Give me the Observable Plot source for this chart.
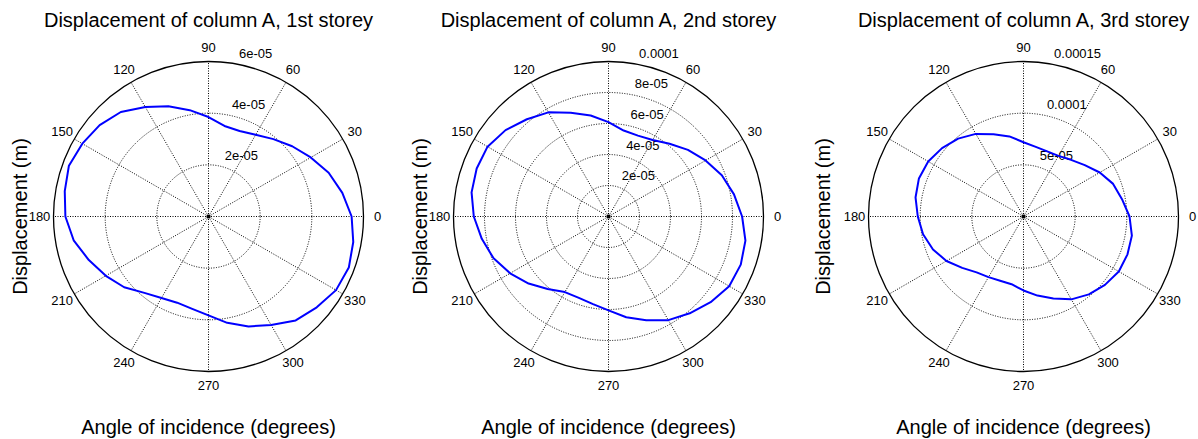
<!DOCTYPE html>
<html>
<head>
<meta charset="utf-8">
<script src="https://cdn.jsdelivr.net/npm/d3@7"></script>
<script src="https://cdn.jsdelivr.net/npm/@observablehq/plot@0.6"></script>
<style>
  html, body { margin: 0; padding: 0; background: #fff; overflow: hidden; }
  #wrap { position: relative; width: 1198px; height: 439px; }
  .panel { position: absolute; top: 0; }
</style>
</head>
<body>
<div id="wrap"></div>
<script>
// ---- data ----
const angles = [0, 10, 20, 30, 40, 50, 60, 70, 80, 90, 100, 110, 120, 130, 140, 150, 160, 170,
                180, 190, 200, 210, 220, 230, 240, 250, 260, 270, 280, 290, 300, 310, 320, 330, 340, 350];

const disp1 = [5.54e-5, 5.26e-5, 4.95e-5, 4.57e-5, 4.23e-5, 3.91e-5, 3.65e-5, 3.52e-5, 3.56e-5,
               3.85e-5, 4.18e-5, 4.54e-5, 4.89e-5, 5.28e-5, 5.50e-5, 5.64e-5, 5.75e-5, 5.65e-5,
               5.54e-5, 5.30e-5, 4.93e-5, 4.59e-5, 4.26e-5, 3.86e-5, 3.64e-5, 3.55e-5, 3.63e-5,
               3.83e-5, 4.18e-5, 4.53e-5, 4.85e-5, 5.25e-5, 5.47e-5, 5.70e-5, 5.78e-5, 5.69e-5];

const disp2 = [8.62e-5, 8.22e-5, 7.78e-5, 7.23e-5, 6.69e-5, 6.13e-5, 5.70e-5, 5.55e-5, 5.63e-5,
               6.09e-5, 6.62e-5, 7.12e-5, 7.76e-5, 8.19e-5, 8.67e-5, 9.01e-5, 9.05e-5, 8.97e-5,
               8.69e-5, 8.30e-5, 7.89e-5, 7.33e-5, 6.73e-5, 6.11e-5, 5.63e-5, 5.59e-5, 5.74e-5,
               6.06e-5, 6.60e-5, 7.12e-5, 7.72e-5, 8.15e-5, 8.60e-5, 8.99e-5, 9.08e-5, 8.97e-5];

const disp3 = [1.026e-4, 9.68e-5, 9.23e-5, 8.52e-5, 7.74e-5, 7.16e-5, 6.77e-5, 6.71e-5, 6.84e-5,
               7.19e-5, 7.87e-5, 8.48e-5, 9.23e-5, 9.84e-5, 1.029e-4, 1.065e-4, 1.077e-4, 1.061e-4,
               1.023e-4, 9.87e-5, 9.32e-5, 8.61e-5, 7.74e-5, 7.06e-5, 6.77e-5, 6.61e-5, 6.65e-5,
               7.16e-5, 7.77e-5, 8.45e-5, 9.26e-5, 9.84e-5, 1.029e-4, 1.065e-4, 1.071e-4, 1.065e-4];

const titles = ["Displacement of column A, 1st storey",
                "Displacement of column A, 2nd storey",
                "Displacement of column A, 3rd storey"];

const angleTicks = [0, 30, 60, 90, 120, 150, 180, 210, 240, 270, 300, 330];

const ringTicks1 = [2e-5, 4e-5, 6e-5];
const ringLabels1 = ["2e-05", "4e-05", "6e-05"];
const ringTicks2 = [2e-5, 4e-5, 6e-5, 8e-5, 1e-4];
const ringLabels2 = ["2e-05", "4e-05", "6e-05", "8e-05", "0.0001"];
const ringTicks3 = [5e-5, 1e-4, 1.5e-4];
const ringLabels3 = ["5e-05", "0.0001", "0.00015"];

const xLabel = "Angle of incidence (degrees)";
const yLabel = "Displacement (m)";

// ---- layout ----
const H = 439, CY = 216, RPX = 155;
const panels = [
  {title: titles[0], values: disp1, ticks: ringTicks1, labels: ringLabels1, left: 0,   width: 400, cx: 208, ylx: 20},
  {title: titles[1], values: disp2, ticks: ringTicks2, labels: ringLabels2, left: 400, width: 398, cx: 208, ylx: 20},
  {title: titles[2], values: disp3, ticks: ringTicks3, labels: ringLabels3, left: 798, width: 400, cx: 225, ylx: 25}
];

const rad = d => d * Math.PI / 180;
const FONT = "'Liberation Sans', Arial, Helvetica, sans-serif";
const DOTS = "1,1.5";
const wrap = document.getElementById("wrap");

for (const p of panels) {
  const R = p.ticks[p.ticks.length - 1];
  const pts = angles.map((a, i) => ({a, r: p.values[i]}));
  pts.push(pts[0]);
  const labR = R * 169 / RPX;
  const labA = rad(82);

  const chart = Plot.plot({
    width: p.width,
    height: H,
    margin: 0,
    style: {fontFamily: FONT, background: "white", color: "black", overflow: "visible"},
    x: {domain: [-R, R], range: [p.cx - RPX, p.cx + RPX], axis: null},
    y: {domain: [-R, R], range: [CY + RPX, CY - RPX], axis: null},
    r: {type: "linear", domain: [0, R], range: [0, RPX]},
    marks: [
      // dotted rings
      Plot.dot(p.ticks.filter(t => t < R), {x: () => 0, y: () => 0, r: t => t, fill: "none",
        stroke: "black", strokeWidth: 1, strokeDasharray: DOTS}),
      // spokes
      Plot.link(angleTicks, {x1: () => 0, y1: () => 0,
        x2: t => R * Math.cos(rad(t)), y2: t => R * Math.sin(rad(t)),
        stroke: "black", strokeWidth: 1, strokeDasharray: DOTS}),
      // outer circle
      Plot.dot([R], {x: () => 0, y: () => 0, r: t => t, fill: "none", stroke: "black", strokeWidth: 1.3}),
      // centre point
      Plot.dot([0], {x: () => 0, y: () => 0, r: 2, fill: "black"}),
      // angle labels
      Plot.text(angleTicks, {x: t => labR * Math.cos(rad(t)), y: t => labR * Math.sin(rad(t)),
        text: t => String(t), fontSize: 13, fill: "black"}),
      // ring labels
      Plot.text(p.ticks, {x: t => t * Math.cos(labA), y: t => t * Math.sin(labA),
        text: (t, i) => p.labels[i], textAnchor: "start", dx: 9, dy: -9.5, fontSize: 13, fill: "black"}),
      // data curve
      Plot.line(pts, {x: d => d.r * Math.cos(rad(d.a)), y: d => d.r * Math.sin(rad(d.a)),
        stroke: "#0000ff", strokeWidth: 2, curve: "linear"}),
      // title
      Plot.text([p.title], {x: () => 0, frameAnchor: "top", dy: 26, lineAnchor: "bottom",
        textAnchor: "middle", fontSize: 20, fill: "black"}),
      // x label
      Plot.text([xLabel], {x: () => 0, frameAnchor: "bottom", dy: -6, lineAnchor: "bottom",
        textAnchor: "middle", fontSize: 20, fill: "black"}),
      // y label
      Plot.text([yLabel], {y: () => 0, frameAnchor: "left", dx: p.ylx, rotate: -90,
        textAnchor: "middle", lineAnchor: "middle", fontSize: 20, fill: "black"})
    ]
  });
  const div = document.createElement("div");
  div.className = "panel";
  div.style.left = p.left + "px";
  div.style.width = p.width + "px";
  div.appendChild(chart);
  wrap.appendChild(div);
}
</script>
</body>
</html>
